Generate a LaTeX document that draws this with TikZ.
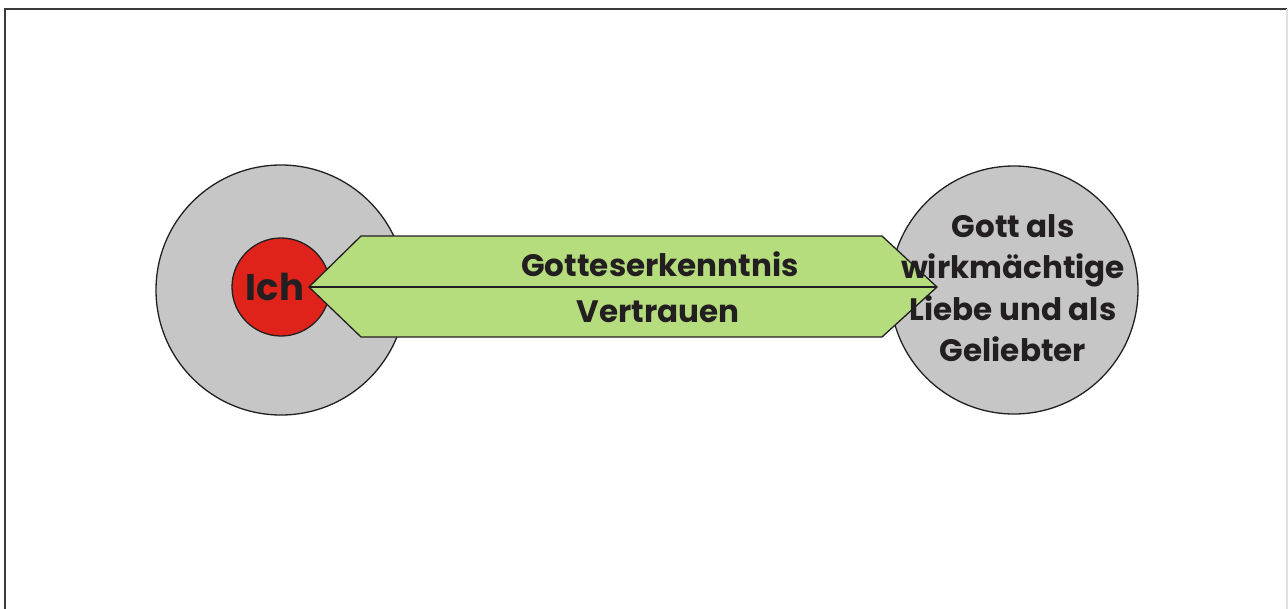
\documentclass[tikz,border=0pt]{standalone}
\usepackage{fontspec}
\setmainfont{Poppins}
\definecolor{cgray}{HTML}{C6C6C6}
\definecolor{cred}{HTML}{E0231A}
\definecolor{cgreen}{HTML}{B5DD7E}
\definecolor{cline}{HTML}{231F20}
\definecolor{frame}{HTML}{3A3A3A}
\tikzset{
  disc/.style={circle, draw=cline, line width=1.3pt, inner sep=0pt},
  lbl/.style={text=cline, font=\fontsize{31}{41.5}\selectfont\bfseries, align=center, inner sep=0pt},
}
\begin{document}
\begin{tikzpicture}[x=1pt,y=-1pt]
\useasboundingbox (0,0) rectangle (1288,608);
\draw[frame, line width=2.2pt] (5,620) -- (5,9) -- (1287,9);
\draw[black!12, line width=1.5pt] (1287,9) -- (1287,620);
\node[disc, fill=cgray, minimum size=250pt] (me) at (281,290) {};
\node[disc, fill=cred, minimum size=98pt] (ich) at (281,287) {};
\node[disc, fill=cgray, minimum size=248pt] (god) at (1014,290) {};
\coordinate (lt) at (309,287);
\coordinate (rt) at (937,287);
\filldraw[fill=cgreen, draw=cline, line width=1.3pt, line join=miter]
  (lt) -- (361,236) -- (882,236) -- (rt) -- (882,337) -- (361,337) -- cycle;
\draw[cline, line width=1.3pt] (lt) -- (rt);
\node[lbl, font=\fontsize{37}{37}\selectfont\bfseries] (ichtxt) at (275,287) {Ich};
\node[lbl] (gk) at (660,264) {Gotteserkenntnis};
\node[lbl] (vt) at (658,312) {Vertrauen};
\node[lbl] (gtxt) at (1013,288) {Gott als\\wirkmächtige\\Liebe und als\\Geliebter};
\end{tikzpicture}
\end{document}
